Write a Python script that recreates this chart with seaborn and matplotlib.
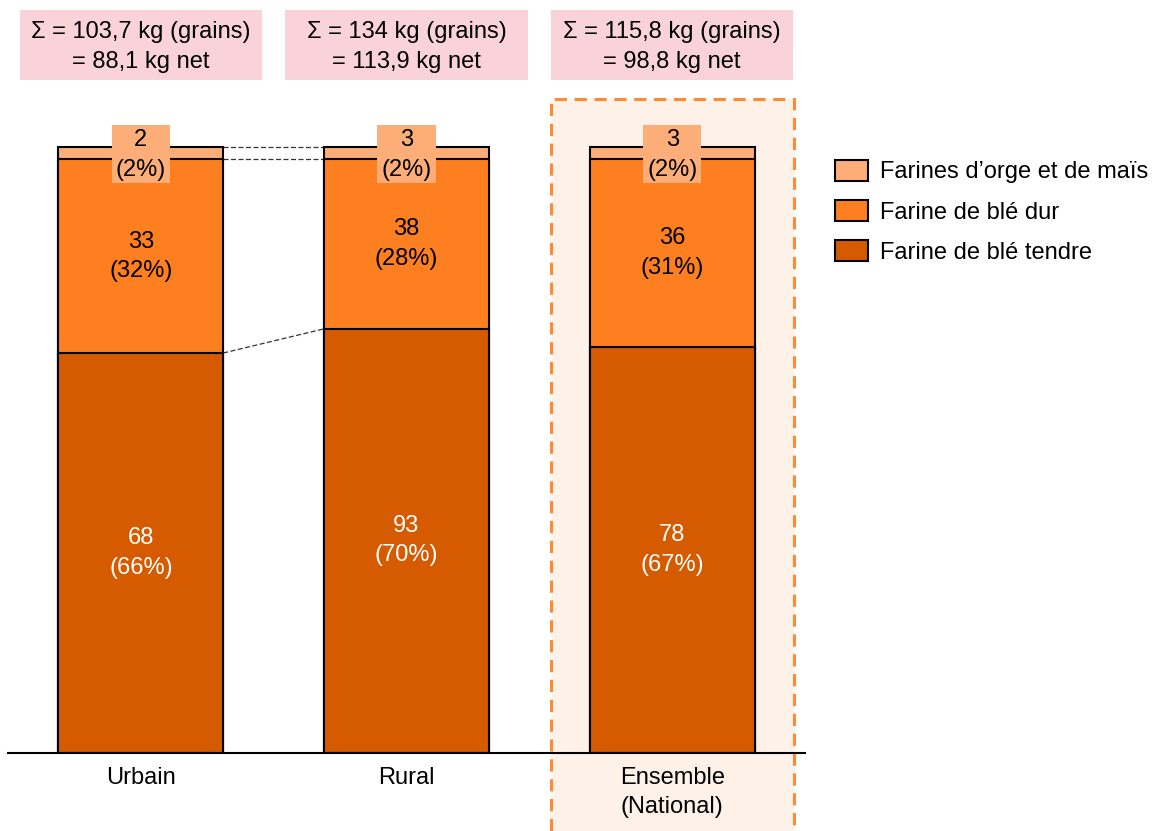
import matplotlib
matplotlib.use("Agg")
import matplotlib.pyplot as plt
import seaborn as sns
import pandas as pd
from matplotlib.patches import Rectangle, Patch

sns.set_theme(style="white")
plt.rcParams['font.family'] = ['Liberation Sans', 'DejaVu Sans']
plt.rcParams['text.color'] = 'black'

# ---- data ----
categories = ["Urbain", "Rural", "Ensemble\n(National)"]
tendre_val = [68, 93, 78]
dur_val = [33, 38, 36]
orge_val = [2, 3, 3]
tendre_pct = [66, 70, 67]
dur_pct = [32, 28, 31]
orge_pct = [2, 2, 2]
totals_text = ["Σ = 103,7 kg (grains)\n= 88,1 kg net",
               "Σ = 134 kg (grains)\n= 113,9 kg net",
               "Σ = 115,8 kg (grains)\n= 98,8 kg net"]
legend_labels = ["Farines d’orge et de maïs", "Farine de blé dur", "Farine de blé tendre"]

c_orge = "#FDAE78"
c_dur = "#FD7F20"
c_tendre = "#D55A00"
c_pink = "#F9D3D9"
c_hl_fill = "#FEF1E7"
c_hl_edge = "#FF8A33"

df = pd.DataFrame({
    "cat": categories,
    "s1": [t for t in tendre_pct],
    "s2": [t + d for t, d in zip(tendre_pct, dur_pct)],
    "s3": [t + d + o for t, d, o in zip(tendre_pct, dur_pct, orge_pct)],
})

W, H = 1155, 831
fig = plt.figure(figsize=(W / 100, H / 100), dpi=100)
y0 = 753  # pixel of baseline
ax = fig.add_axes([8 / W, (H - y0) / H, (805 - 8) / W, y0 / H])
ppu = (753 - 147) / 100.0
ax.set_ylim(0, y0 / ppu)

bw = 0.62
lw = 1.5
for col, color in [("s3", c_orge), ("s2", c_dur), ("s1", c_tendre)]:
    sns.barplot(data=df, x="cat", y=col, color=color, width=bw, ax=ax,
                edgecolor="black", linewidth=lw, saturation=1, zorder=3)
ax.set_xlim(-0.5, 2.5)

def px2y(p):
    return (y0 - p) / ppu

# highlight for Ensemble
hx0 = 2 + (550 - 671) / 265.5
hx1 = 2 + (793 - 671) / 265.5
rect = Rectangle((hx0, px2y(840)), hx1 - hx0, px2y(99) - px2y(840),
                 facecolor=c_hl_fill, edgecolor=c_hl_edge, linewidth=2.2,
                 linestyle=(0, (4, 2.5)), clip_on=False, zorder=0)
ax.add_patch(rect)

# dashed connectors Urbain -> Rural
x_r = 0 + bw / 2
x_l = 1 - bw / 2
for lvl in ["s3", "s2", "s1"]:
    ax.plot([x_r, x_l], [df[lvl][0], df[lvl][1]], color="#333333",
            linestyle=(0, (4, 2)), linewidth=0.9, zorder=2)

fs = 17
ls = 1.42
for i in range(3):
    ax.text(i, tendre_pct[i] / 2, f"{tendre_val[i]}\n({tendre_pct[i]}%)",
            ha="center", va="center", color="white", fontsize=fs, zorder=5,
            linespacing=ls)
    ax.text(i, tendre_pct[i] + dur_pct[i] / 2, f"{dur_val[i]}\n({dur_pct[i]}%)",
            ha="center", va="center", color="black", fontsize=fs, zorder=5,
            linespacing=ls)
    # orge label box
    ax.add_patch(Rectangle((i - 29 / 265.5, px2y(183)), 58 / 265.5,
                           px2y(125) - px2y(183), facecolor=c_orge,
                           edgecolor="none", zorder=5))
    ax.text(i, px2y(155), f"{orge_val[i]}\n({orge_pct[i]}%)",
            ha="center", va="center", color="black", fontsize=fs, zorder=6,
            linespacing=ls)
    # totals box
    bx0 = i + (-121) / 265.5
    ax.add_patch(Rectangle((bx0, px2y(80)), 242 / 265.5, px2y(10) - px2y(80),
                           facecolor=c_pink, edgecolor="none", clip_on=False, zorder=1))
    ax.text(i, px2y(47), totals_text[i], ha="center", va="center",
            fontsize=fs, color="black", linespacing=ls, zorder=2)

# axes styling
for s in ["top", "left", "right"]:
    ax.spines[s].set_visible(False)
ax.spines["bottom"].set_color("black")
ax.spines["bottom"].set_linewidth(1.5)
ax.spines["bottom"].set_zorder(4)
ax.set_yticks([])
ax.set_xlabel("")
ax.set_ylabel("")
ax.tick_params(axis="x", length=0, pad=10, labelsize=fs, colors="black")
for lbl in ax.get_xticklabels():
    lbl.set_linespacing(ls)
ax.set_facecolor("none")

handles = [Patch(facecolor=c, edgecolor="black", linewidth=1.5)
           for c in [c_orge, c_dur, c_tendre]]
leg = fig.legend(handles, legend_labels, loc="upper left",
                 bbox_to_anchor=(830 / W, 1 - 155 / H), frameon=False, fontsize=fs,
                 handlelength=1.4, handleheight=1.0, handletextpad=0.5,
                 labelspacing=0.7, borderaxespad=0, borderpad=0.2)
for t in leg.get_texts():
    t.set_color("black")

fig.savefig("out.png", dpi=100)
